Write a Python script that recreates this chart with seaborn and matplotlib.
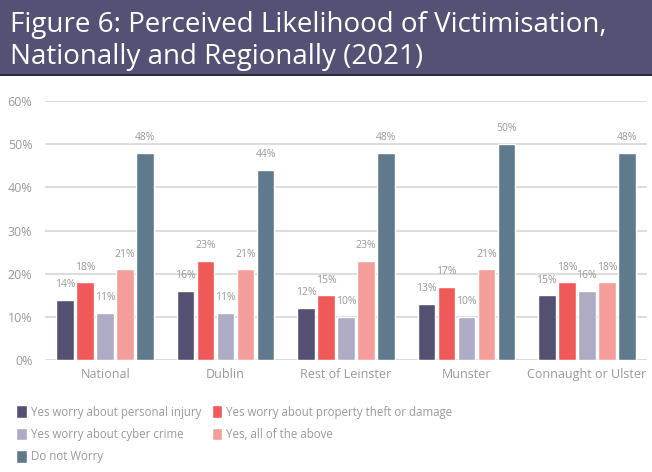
import pandas as pd
import matplotlib
matplotlib.use("Agg")
import matplotlib.pyplot as plt
from matplotlib.patches import Rectangle
import seaborn as sns

# Survey values (%)
regions = ["National", "Dublin", "Rest of Leinster", "Munster", "Connaught or Ulster"]
responses = [
    "Yes worry about personal injury",
    "Yes worry about property theft or damage",
    "Yes worry about cyber crime",
    "Yes, all of the above",
    "Do not Worry",
]
personal_injury = [14, 16, 12, 13, 15]
property_theft = [18, 23, 15, 17, 18]
cyber_crime = [11, 11, 10, 10, 16]
all_above = [21, 21, 23, 21, 18]
do_not_worry = [48, 44, 48, 50, 48]
y_ticks = [0, 10, 20, 30, 40, 50, 60]

colors = ["#545072", "#EF5A58", "#AEABC5", "#F59D9A", "#5F7A8C"]

series = [personal_injury, property_theft, cyber_crime, all_above, do_not_worry]
rows = []
for resp, vals in zip(responses, series):
    for reg, v in zip(regions, vals):
        rows.append({"Region": reg, "Response": resp, "Value": v})
df = pd.DataFrame(rows)

sns.set_style("white")
plt.rcParams["font.family"] = ["Open Sans", "DejaVu Sans"]

fig = plt.figure(figsize=(6.52, 4.72), dpi=100)
W, H = 652, 472
ax = fig.add_axes([45 / W, 1 - 360 / H, 602 / W, 259 / H])

sns.barplot(data=df, x="Region", y="Value", hue="Response", palette=colors,
            saturation=1, width=0.83, gap=0.12, ax=ax, legend=True)

for c in ax.containers:
    ax.bar_label(c, fmt="%d%%", padding=7, fontsize=7.5, color="#9a9a9a")

ax.set_ylim(0, 60)
ax.set_xlim(-0.5, 4.5)
ax.set_yticks(y_ticks)
ax.set_yticklabels([f"{t}%" for t in y_ticks])
ax.yaxis.grid(True, color="#dddddd", linewidth=1.5)
ax.set_axisbelow(True)
for s in ax.spines.values():
    s.set_visible(False)
ax.tick_params(axis="both", length=0, colors="#9a9a9a", labelsize=9)
ax.tick_params(axis="y", pad=9)
ax.tick_params(axis="x", pad=6)
ax.set_xlabel("")
ax.set_ylabel("")

# legend in row-major order across two columns
handles, labels = ax.get_legend_handles_labels()
ax.get_legend().remove()
order = [0, 2, 4, 1, 3]
fig.legend([handles[i] for i in order], [labels[i] for i in order],
           loc="upper left", bbox_to_anchor=(6 / W, 1 - 395 / H), ncol=2,
           frameon=False, fontsize=8.3, labelcolor="#9a9a9a",
           handlelength=0.95, handleheight=1.3, handletextpad=0.3,
           columnspacing=0.9, labelspacing=0.8)

# title banner
fig.patches.append(Rectangle((0, 1 - 75 / H), 1, 75 / H, transform=fig.transFigure,
                             facecolor="#535275", edgecolor="none", zorder=0))
fig.patches.append(Rectangle((0, 1 - 76 / H), 1, 2 / H, transform=fig.transFigure,
                             facecolor="#2b2b3d", edgecolor="none", zorder=0))
fig.text(10 / W, 1 - 41 / H,
         "Figure 6: Perceived Likelihood of Victimisation,\nNationally and Regionally (2021)",
         color="white", fontsize=20, va="center", ha="left", linespacing=1.15)

fig.savefig("out.png", dpi=100)
